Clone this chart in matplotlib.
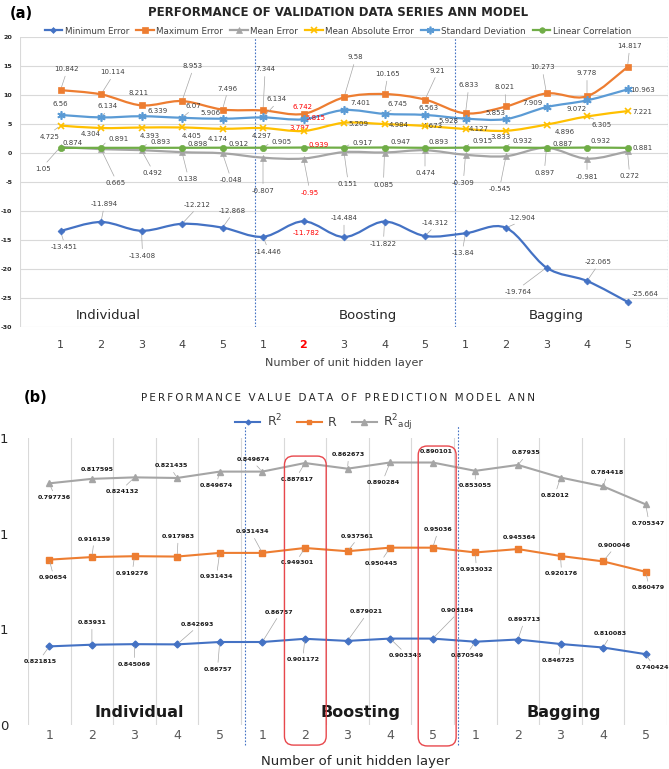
import numpy as np
import matplotlib
matplotlib.use("Agg")
import matplotlib.pyplot as plt
from matplotlib.path import Path
from matplotlib.patches import PathPatch, FancyBboxPatch
from matplotlib.lines import Line2D

plt.rcParams["axes.unicode_minus"] = False

# ---------------- data ----------------
units = ["1", "2", "3", "4", "5"] * 3
groups = ["Individual", "Boosting", "Bagging"]
series_a = ["Minimum Error", "Maximum Error", "Mean Error",
            "Mean Absolute Error", "Standard Deviation", "Linear Correlation"]
min_err = [-13.451, -11.894, -13.408, -12.212, -12.868, -14.446, -11.782, -14.484,
           -11.822, -14.312, -13.84, -12.904, -19.764, -22.065, -25.664]
max_err = [10.842, 10.114, 8.211, 8.953, 7.496, 7.344, 6.742, 9.58, 10.165, 9.21,
           6.833, 8.021, 10.273, 9.778, 14.817]
mean_err = [1.05, 0.665, 0.492, 0.138, -0.048, -0.807, -0.95, 0.151, 0.085, 0.474,
            -0.309, -0.545, 0.897, -0.981, 0.272]
mae = [4.725, 4.304, 4.393, 4.405, 4.174, 4.297, 3.797, 5.209, 4.984, 4.673,
       4.127, 3.833, 4.896, 6.305, 7.221]
std_dev = [6.56, 6.134, 6.339, 6.07, 5.906, 6.134, 5.815, 7.401, 6.745, 6.563,
           5.928, 5.853, 7.909, 9.072, 10.963]
lin_corr = [0.874, 0.891, 0.893, 0.898, 0.912, 0.905, 0.939, 0.917, 0.947, 0.893,
            0.915, 0.932, 0.887, 0.932, 0.881]

series_b = ["R$^2$", "R", "R$^2{}_{\\rm adj}$"]
r2 = [0.821815, 0.83931, 0.845069, 0.842693, 0.86757, 0.86757, 0.901172, 0.879021,
      0.903345, 0.903184, 0.870549, 0.893713, 0.846725, 0.810083, 0.740424]
r_val = [0.90654, 0.916139, 0.919276, 0.917983, 0.931434, 0.931434, 0.949301, 0.937561,
         0.950445, 0.95036, 0.933032, 0.945364, 0.920176, 0.900046, 0.860479]
r2_adj = [0.797736, 0.817595, 0.824132, 0.821435, 0.849674, 0.849674, 0.887817, 0.862673,
          0.890284, 0.890101, 0.853055, 0.87935, 0.82012, 0.784418, 0.705347]
b_ytick_labels = ["0", "1", "1", "1"]

# ---------------- label offsets (pixels, +y = down) ----------------
min_off = [(4, 16), (3, -18), (1, 25), (15, -19), (10, -17), (5, 15), (3, 12), (0, -19),
           (-1, 22), (10, -13), (-3, 20), (16, -10), (-28, 24), (11, -19), (18, -8)]
max_off = [(6, -21), (12, -22), (-3, -12), (11, -35), (5, -21), (2, -41), (-1, -7), (11, -40),
           (3, -20), (12, -29), (3, -28), (-1, -19), (-4, -26), (0, -23), (2, -21)]
mean_off = [(-17, 22), (15, 34), (11, 23), (6, 27), (8, 27), (0, 33), (6, 34), (4, 32),
            (-1, 32), (0, 23), (-2, 28), (-6, 33), (-2, 25), (0, 18), (2, 25)]
mae_off = [(-11, 11), (-10, 6), (8, 8), (10, 9), (-5, 10), (-1, 8), (-4, -3), (14, 1),
           (14, 1), (8, 0), (13, 0), (-5, 6), (18, 7), (15, 9), (15, 1)]
std_off = [(0, -11), (7, -11), (16, -5), (11, -12), (-12, -6), (14, -18), (12, -1), (16, -7),
           (13, -10), (4, -7), (-17, 2), (-11, -6), (-14, -4), (-10, 9), (15, 1)]
corr_off = [(12, -5), (18, -9), (19, -6), (16, -4), (16, -4), (19, -6), (15, -3), (19, -5),
            (16, -6), (14, -6), (17, -7), (17, -7), (16, -4), (14, -7), (15, 0)]
r2_off = [(-9, 15), (0, -22), (0, 20), (20, -20), (-2, 27), (17, -30), (-2, 21), (19, -29),
          (15, 17), (25, -28), (-8, 14), (6, -20), (-2, 17), (7, -14), (7, 13)]
r_off = [(4, 18), (2, -18), (-2, 17), (1, -20), (-3, 24), (-10, -21), (-8, 15), (10, -15),
         (-9, 16), (5, -18), (1, 17), (2, -12), (1, 18), (11, -16), (3, 16)]
r2adj_off = [(5, 14), (5, -9), (-12, 14), (-6, -12), (-3, 14), (-9, -12), (-8, 16), (1, -14),
             (-7, 20), (4, -11), (0, 15), (8, -12), (-5, 18), (4, -14), (3, 19)]

HIGHLIGHT = 6
TXT = "#404040"
GRID = "#D9D9D9"
DOT = "#4472C4"

fig = plt.figure(figsize=(6.69, 7.69), dpi=100)
W, H = 669, 769


def ax_rect(l, t, r, b):
    return [l / W, 1 - b / H, (r - l) / W, (b - t) / H]


def smooth_path(x, y, t=1 / 6):
    verts = [(x[0], y[0])]
    codes = [Path.MOVETO]
    n = len(x)
    for i in range(n - 1):
        p0 = (x[i - 1], y[i - 1]) if i > 0 else (x[i], y[i])
        p1 = (x[i], y[i])
        p2 = (x[i + 1], y[i + 1])
        p3 = (x[i + 2], y[i + 2]) if i + 2 < n else p2
        c1 = (p1[0] + (p2[0] - p0[0]) * t, p1[1] + (p2[1] - p0[1]) * t)
        c2 = (p2[0] - (p3[0] - p1[0]) * t, p2[1] - (p3[1] - p1[1]) * t)
        verts += [c1, c2, p2]
        codes += [Path.CURVE4] * 3
    return Path(verts, codes)


def label(ax, x, y, text, off, color, fs, weight="normal"):
    dx, dy = off
    dist = np.hypot(dx, dy)
    kw = {}
    if dist > 13:
        if abs(dy) >= abs(dx) * 0.6:
            rel = (0.5, 0.0) if dy < 0 else (0.5, 1.0)
        else:
            rel = (0.0, 0.5) if dx > 0 else (1.0, 0.5)
        kw["arrowprops"] = dict(arrowstyle="-", color="#A6A6A6", lw=0.5,
                                shrinkA=1, shrinkB=2, relpos=rel)
    ax.annotate(text, (x, y), xytext=(dx, -dy), textcoords="offset pixels",
                ha="center", va="center", fontsize=fs, color=color,
                fontweight=weight, **kw)


# ====================== panel (a) ======================
ax = fig.add_axes(ax_rect(20, 37, 668, 327))
x = np.arange(len(min_err))
ax.set_xlim(-1, 15)
ax.set_ylim(-30, 20)
for s in ax.spines.values():
    s.set_visible(False)
ax.set_yticks(np.arange(-30, 21, 5))
ax.set_xticks(x)
ax.set_xticklabels(units)
ax.set_xticks(np.arange(-1, 15, 2), minor=True)
ax.grid(True, which="major", axis="y", color=GRID, lw=0.8)
ax.grid(True, which="minor", axis="x", color=GRID, lw=0.8)
ax.tick_params(axis="both", which="both", length=0)
ax.tick_params(axis="y", labelsize=4.6, labelcolor="#262626", pad=5.5)
ax.tick_params(axis="x", labelsize=8, labelcolor=TXT, pad=9)
for lab in ax.get_yticklabels():
    lab.set_fontweight("bold")
tl = ax.get_xticklabels()
tl[HIGHLIGHT].set_color("red")
tl[HIGHLIGHT].set_fontweight("bold")
ax.set_axisbelow(True)

specs_a = [
    (min_err, "#4472C4", "D", 3.5, min_off),
    (max_err, "#ED7D31", "s", 4.2, max_off),
    (mean_err, "#A5A5A5", "^", 4.5, mean_off),
    (mae, "#FFC000", "x", 5, mae_off),
    (std_dev, "#5B9BD5", (6, 2, 0), 6, std_off),
    (lin_corr, "#70AD47", "o", 4.5, corr_off),
]
handles = []
for (vals, col, mk, ms, offs), name in zip(specs_a, series_a):
    ax.add_patch(PathPatch(smooth_path(x, vals), fill=False, edgecolor=col, lw=1.6, zorder=3))
    ax.plot(x, vals, linestyle="none", marker=mk, ms=ms, color=col, mec=col,
            mew=1.2 if mk in ("x", (6, 2, 0)) else 0.5, zorder=4)
    handles.append(Line2D([], [], color=col, lw=1.6, marker=mk, ms=ms - 0.5, mec=col,
                          mew=1.2 if mk in ("x", (6, 2, 0)) else 0.5, label=name))
    for i, v in enumerate(vals):
        c = "red" if i == HIGHLIGHT else TXT
        label(ax, x[i], v, f"{v:g}", offs[i], c, 5)

for xv in (4.8, 9.75, 15):
    ax.plot([xv, xv], [-30, 20], color=DOT, lw=0.8, ls=(0, (1.5, 1.5)), zorder=2)

for gname, gx in zip(groups, (1.19, 7.6, 12.25)):
    ax.text(gx, 0.04, gname, transform=ax.get_xaxis_transform(), ha="center",
            va="center", fontsize=9.5, color="#262626")

fig.legend(handles=handles, loc="center", bbox_to_anchor=(338 / W, 1 - 31 / H),
           ncol=6, frameon=False, fontsize=6.3, handlelength=2.0, handletextpad=0.3,
           columnspacing=0.8, labelcolor=TXT)
fig.text(10 / W, 1 - 13 / H, "(a)", fontsize=10.5, fontweight="bold", va="center")
fig.text(338 / W, 1 - 13 / H, "PERFORMANCE OF VALIDATION DATA SERIES ANN MODEL",
         fontsize=8.5, fontweight="bold", ha="center", va="center", color="#262626")
fig.text(344 / W, 1 - 363 / H, "Number of unit hidden layer", fontsize=8,
         ha="center", va="center", color=TXT)

# ====================== panel (b) ======================
bx = fig.add_axes(ax_rect(28, 438, 667, 725))
xb = np.arange(len(r2))
bx.set_xlim(-0.5, 14.5)
bx.set_ylim(0, 3.0)
for s in bx.spines.values():
    s.set_visible(False)
bx.set_xticks(xb)
bx.set_xticklabels(units)
bx.set_xticks(np.arange(-0.5, 15, 1), minor=True)
bx.grid(True, which="minor", axis="x", color=GRID, lw=0.8)
bx.set_yticks([0, 1, 2, 3])
bx.set_yticklabels(b_ytick_labels)
bx.tick_params(axis="both", which="both", length=0)
bx.tick_params(axis="y", labelsize=9.5, labelcolor="#262626", pad=14)
bx.tick_params(axis="x", labelsize=9, labelcolor="#595959", pad=3)
bx.set_axisbelow(True)

stack = np.cumsum(np.vstack([r2, r_val, r2_adj]), axis=0)
specs_b = [
    (r2, "#4472C4", "D", 3.5, r2_off),
    (r_val, "#ED7D31", "s", 4.5, r_off),
    (r2_adj, "#A5A5A5", "^", 5, r2adj_off),
]
handles_b = []
for k, ((vals, col, mk, ms, offs), name) in enumerate(zip(specs_b, series_b)):
    yy = stack[k]
    bx.plot(xb, yy, color=col, lw=1.5, marker=mk, ms=ms, mec=col, zorder=3)
    handles_b.append(Line2D([], [], color=col, lw=1.5, marker=mk, ms=ms - 1, mec=col, label=name))
    for i, v in enumerate(vals):
        label(bx, xb[i], yy[i], f"{v:g}", offs[i], "#1a1a1a", 4.6, "bold")

for xv in (4.6, 9.6):
    bx.plot([xv, xv], [-0.07, 1.045], color=DOT, lw=0.8, ls=(0, (1.5, 1.5)),
            transform=bx.get_xaxis_transform(), clip_on=False, zorder=2)

for gname, gx in zip(groups, (2.11, 7.3, 12.07)):
    bx.text(gx, 0.045, gname, transform=bx.get_xaxis_transform(), ha="center",
            va="center", fontsize=11.5, fontweight="bold", color="#1a1a1a")

# red rounded highlight boxes (figure pixels -> inches)
fig.canvas.draw()
for (c_left, c_right, a_bot, a_top) in ((5.52, 6.5, -0.07, 0.937), (8.66, 9.55, -0.073, 0.972)):
    xl = bx.transData.transform((c_left, 0))[0]
    xr = bx.transData.transform((c_right, 0))[0]
    yb = bx.transAxes.transform((0, a_bot))[1]
    yt = bx.transAxes.transform((0, a_top))[1]
    d = fig.dpi
    patch = FancyBboxPatch((xl / d, yb / d), (xr - xl) / d, (yt - yb) / d,
                           boxstyle="round,pad=0,rounding_size=0.09",
                           transform=fig.dpi_scale_trans, fill=False,
                           edgecolor="#E8474C", lw=1.0, zorder=5)
    fig.add_artist(patch)

fig.legend(handles=handles_b, loc="center", bbox_to_anchor=(324 / W, 1 - 423 / H),
           ncol=3, frameon=False, fontsize=9, handlelength=2.0, handletextpad=0.5,
           columnspacing=1.2, labelcolor="#404040")
fig.text(24 / W, 1 - 398 / H, "(b)", fontsize=10.5, fontweight="bold", va="center")
title_b = "\u2009".join("PERFORMANCE VALUE DATA OF PREDICTION MODEL ANN")
fig.text(338 / W, 1 - 398 / H, title_b, fontsize=7.5, ha="center", va="center",
         color="#262626")
fig.text(355 / W, 1 - 762 / H, "Number of unit hidden layer", fontsize=9.5,
         ha="center", va="center", color="#262626")

fig.savefig("out.png", dpi=100)
